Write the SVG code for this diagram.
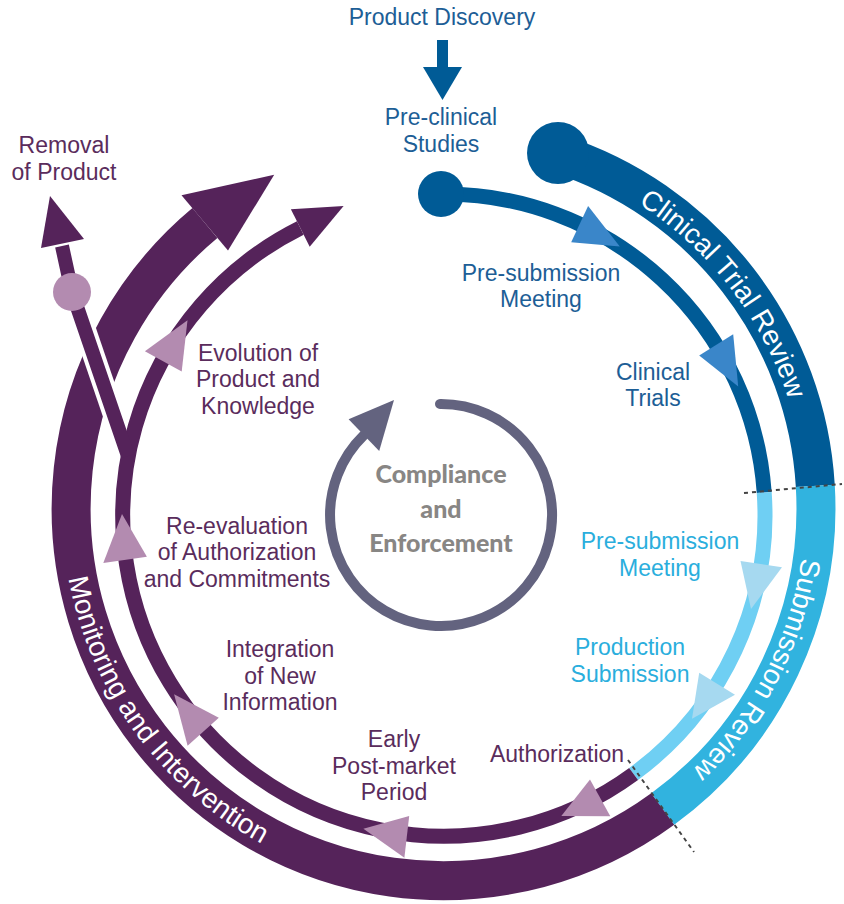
<svg xmlns="http://www.w3.org/2000/svg" xmlns:xlink="http://www.w3.org/1999/xlink" width="844" height="904" viewBox="0 0 844 904">
<style>
.lbl{font-family:"Liberation Sans",Arial,sans-serif;font-size:23px;text-anchor:middle}
.db{fill:#1d5e96}.lb{fill:#2aaedd}.pu{fill:#5a2c5c}
.band{fill:none;stroke-width:39}
.trk{fill:none;stroke-width:15}
.bt{font-family:"Liberation Sans",Arial,sans-serif;font-size:28px;fill:#ffffff}
.div{stroke:#444;stroke-width:2;stroke-dasharray:4 4;fill:none}
.ce{font-family:Lato,"Open Sans",sans-serif;font-weight:900;font-size:25px;fill:#888684;text-anchor:middle}
</style>
<defs>
<path id="pCTR" d="M506.7,152.5 A361,361 0 0 1 803.6,539.5"/>
<path id="pSR" d="M796.2,428.6 A361,361 0 0 1 583.3,841"/>
<path id="pMI" d="M73.3,415.6 A382,382 0 0 0 417.3,889.1"/>
</defs>
<rect width="844" height="904" fill="#ffffff"/>
<g id="connectors">
  <path class="band" stroke="#005b96" d="M557.7,153.8 A372,372 0 0 1 815.3,485.9"/>
  <path class="band" stroke="#31b3df" d="M815.3,485.9 A372,372 0 0 1 662.7,809"/>
  <path class="band" stroke="#55235a" stroke-width="41" d="M662.7,809 A372,372 0 0 1 204.9,223"/>
  <polygon fill="#55235a" points="181.5,195.2 228,250.5 274.2,174.8"/>
  <circle cx="558" cy="153" r="31" fill="#005b96"/>
  <path class="trk" stroke="#005b96" d="M441.2,194 A321,321 0 0 1 764.2,492.6"/>
  <path class="trk" stroke="#6fcff3" d="M764.2,492.6 A321,321 0 0 1 633.6,774"/>
  <path class="trk" stroke="#55235a" d="M633.6,774 A321,321 0 1 1 300.3,228"/>
  <polygon fill="#55235a" points="309.7,246.7 290.9,209.2 343.6,205.9"/>
  <circle cx="441" cy="194" r="23" fill="#005b96"/>
  <path d="M115,418 L84,327" stroke="#ffffff" stroke-width="22" fill="none"/>
  <path d="M128,456 L72,292 L62,246" stroke="#55235a" stroke-width="14" fill="none"/>
  <circle cx="72" cy="292" r="19" fill="#b38bb0"/>
  <polygon fill="#55235a" points="50,196 41,248 84,239"/>
  <polygon fill="#3a86c9" points="571.2,242.2 588.1,205.9 619.8,246.4"/>
  <polygon fill="#3a86c9" points="699.2,355.5 733.2,334.3 738.2,386.5"/>
  <polygon fill="#a6d9f0" points="740.5,560.9 782,567.3 751,608.9"/>
  <polygon fill="#a6d9f0" points="699.2,672.7 735,694.7 692,718.7"/>
  <polygon fill="#b38bb0" points="590,779.4 610.3,816.2 561.3,815.9"/>
  <polygon fill="#b38bb0" points="409.2,816 404.4,857.7 363.4,828.8"/>
  <polygon fill="#b38bb0" points="218.8,717.7 187.6,745.8 174.1,694.3"/>
  <polygon fill="#b38bb0" points="146.9,556.8 103.3,562.9 122,513.9"/>
  <polygon fill="#b38bb0" points="181.7,371.4 144.9,351.2 187.5,320.3"/>
  <line class="div" x1="744" y1="493" x2="842" y2="484"/>
  <line class="div" x1="628" y1="760" x2="694" y2="852"/>
  <rect x="437" y="40" width="11" height="28" fill="#005b96"/>
  <polygon fill="#005b96" points="423,67 462,67 442.5,100"/>
  <path d="M440,404 A111,111 0 1 1 363.9,435.2" fill="none" stroke="#63637f" stroke-width="10" stroke-linecap="round"/>
  <polygon fill="#63637f" points="379.2,451 348.6,419.3 394,400"/>
</g>
<g id="band-clinical-trial-review">
  <text class="bt"><textPath xlink:href="#pCTR" href="#pCTR" startOffset="142">Clinical</textPath></text>
  <text class="bt"><textPath xlink:href="#pCTR" href="#pCTR" startOffset="240">Trial</textPath></text>
  <text class="bt"><textPath xlink:href="#pCTR" href="#pCTR" startOffset="302">Review</textPath></text>
</g>
<g id="band-submission-review">
  <text class="bt"><textPath xlink:href="#pSR" href="#pSR" startOffset="130">Submission</textPath></text>
  <text class="bt"><textPath xlink:href="#pSR" href="#pSR" startOffset="282">Review</textPath></text>
</g>
<g id="band-monitoring-intervention">
  <text class="bt"><textPath xlink:href="#pMI" href="#pMI" startOffset="164">Monitoring</textPath></text>
  <text class="bt"><textPath xlink:href="#pMI" href="#pMI" startOffset="302">and</textPath></text>
  <text class="bt"><textPath xlink:href="#pMI" href="#pMI" startOffset="357">Intervention</textPath></text>
</g>
<g id="product-discovery"><text class="lbl db" x="442" y="25">Product Discovery</text></g>
<g id="pre-clinical"><text class="lbl db" x="441" y="125">Pre-clinical</text><text class="lbl db" x="441" y="152">Studies</text></g>
<g id="pre-submission-1"><text class="lbl db" x="541" y="281">Pre-submission</text><text class="lbl db" x="541" y="307">Meeting</text></g>
<g id="clinical-trials"><text class="lbl db" x="653" y="380">Clinical</text><text class="lbl db" x="653" y="406">Trials</text></g>
<g id="pre-submission-2"><text class="lbl lb" x="660" y="549">Pre-submission</text><text class="lbl lb" x="660" y="576">Meeting</text></g>
<g id="production-submission"><text class="lbl lb" x="630" y="655">Production</text><text class="lbl lb" x="630" y="682">Submission</text></g>
<g id="authorization"><text class="lbl pu" x="557" y="762">Authorization</text></g>
<g id="early-post-market"><text class="lbl pu" x="394" y="747">Early</text><text class="lbl pu" x="394" y="774">Post-market</text><text class="lbl pu" x="394" y="800">Period</text></g>
<g id="integration"><text class="lbl pu" x="280" y="657">Integration</text><text class="lbl pu" x="280" y="684">of New</text><text class="lbl pu" x="280" y="710">Information</text></g>
<g id="re-evaluation"><text class="lbl pu" x="237" y="534">Re-evaluation</text><text class="lbl pu" x="237" y="560">of Authorization</text><text class="lbl pu" x="237" y="587">and Commitments</text></g>
<g id="evolution"><text class="lbl pu" x="258" y="361">Evolution of</text><text class="lbl pu" x="258" y="387">Product and</text><text class="lbl pu" x="258" y="414">Knowledge</text></g>
<g id="removal"><text class="lbl pu" x="64" y="153">Removal</text><text class="lbl pu" x="64" y="180">of Product</text></g>
<g id="compliance"><text class="ce" x="441" y="483">Compliance</text><text class="ce" x="441" y="518">and</text><text class="ce" x="441" y="552">Enforcement</text></g>
</svg>
